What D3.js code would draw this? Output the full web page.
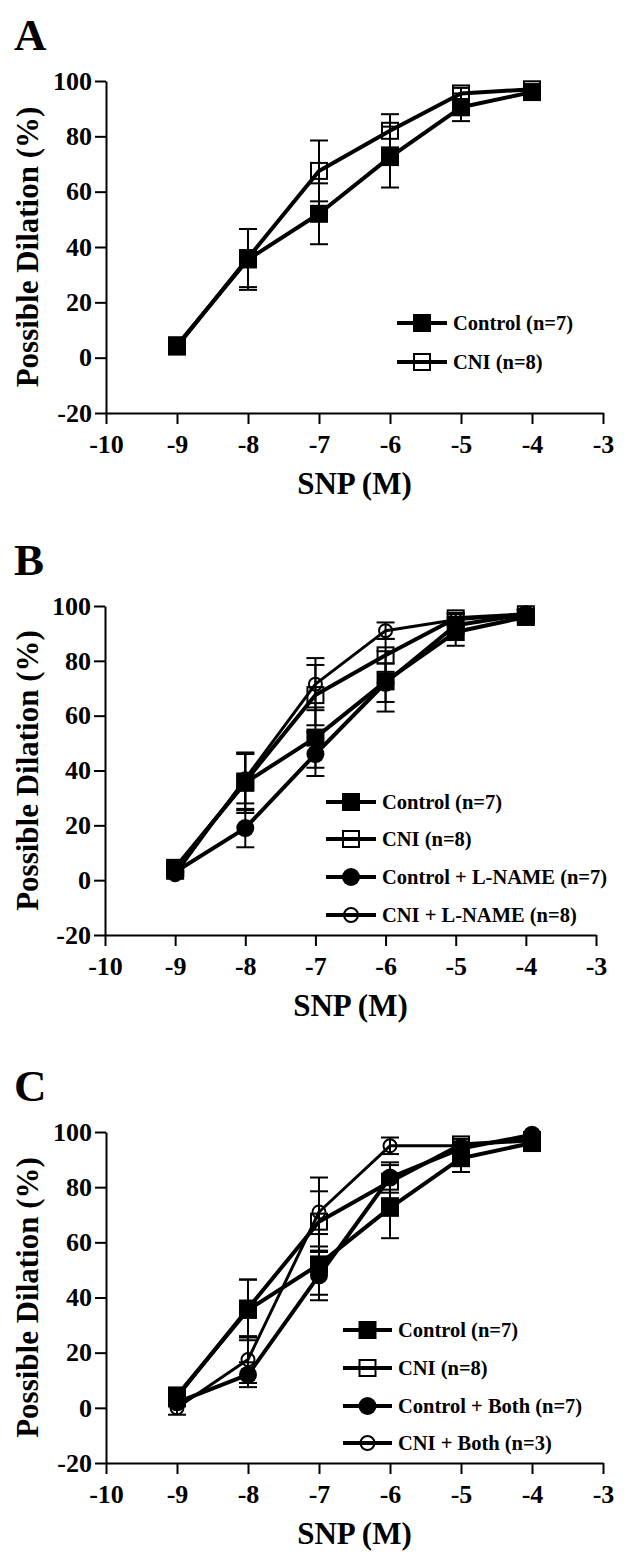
<!DOCTYPE html>
<html>
<head>
<meta charset="utf-8">
<script src="https://cdn.jsdelivr.net/npm/d3@7"></script>
<style>
  html, body { margin: 0; padding: 0; background: #fff; }
  svg { display: block; }
  text { font-family: "Liberation Serif", "Times New Roman", serif; font-weight: bold; fill: #000; }
</style>
</head>
<body>
<svg id="chart" width="628" height="1563"></svg>
<script>
// ---------- data ----------
const doses = [-9, -8, -7, -6, -5, -4];
const xTickValues = [-10, -9, -8, -7, -6, -5, -4, -3];
const yTickValues = [-20, 0, 20, 40, 60, 80, 100];

const controlMean = [4.5, 35.5, 52, 72.5, 90.5, 96];
const controlSem  = [1.5, 11, 11, 11, 5, 1.5];
const cniMean     = [4, 36, 67.5, 82, 95.5, 97];
const cniSem      = [1.5, 10.5, 11, 6, 2, 1.5];

const controlLnameMean = [3, 19, 46, 72, 93, 97];
const controlLnameSem  = [1.5, 7, 8, 7, 3, 1.5];
const cniLnameMean     = [2, 37, 71.5, 91, 95, 97];
const cniLnameSem      = [1.5, 9, 9.5, 3, 2, 1.5];

const controlBothMean = [2, 12, 48, 83.5, 94, 99];
const controlBothSem  = [1.5, 4.5, 9, 5.5, 2.5, 1];
const cniBothMean     = [0, 17.5, 71, 95, 95, 97.5];
const cniBothSem      = [2.5, 8.5, 12.5, 3, 1.5, 1];

const panelLetters = ["A", "B", "C"];
const xAxisTitle = "SNP (M)";
const yAxisTitle = "Possible Dilation (%)";

const seriesA = [
  { name: "Control (n=7)", mean: controlMean, sem: controlSem, marker: "squareFilled" },
  { name: "CNI (n=8)", mean: cniMean, sem: cniSem, marker: "squareOpen" }
];
const seriesB = [
  { name: "Control (n=7)", mean: controlMean, sem: controlSem, marker: "squareFilled" },
  { name: "CNI (n=8)", mean: cniMean, sem: cniSem, marker: "squareOpen" },
  { name: "Control + L-NAME (n=7)", mean: controlLnameMean, sem: controlLnameSem, marker: "circleFilled" },
  { name: "CNI + L-NAME (n=8)", mean: cniLnameMean, sem: cniLnameSem, marker: "circleOpen" }
];
const seriesC = [
  { name: "Control (n=7)", mean: controlMean, sem: controlSem, marker: "squareFilled" },
  { name: "CNI (n=8)", mean: cniMean, sem: cniSem, marker: "squareOpen" },
  { name: "Control + Both (n=7)", mean: controlBothMean, sem: controlBothSem, marker: "circleFilled" },
  { name: "CNI + Both (n=3)", mean: cniBothMean, sem: cniBothSem, marker: "circleOpen" }
];

// ---------- layout ----------
const panels = [
  { letter: panelLetters[0], series: seriesA, x0: 106, x1: 603, yTop: 81, yBot: 413,
    legend: { lx0: 397, lx1: 447, ty: 453, rowY: [323, 362] } },
  { letter: panelLetters[1], series: seriesB, x0: 105, x1: 596, yTop: 606, yBot: 935,
    legend: { lx0: 326, lx1: 376, ty: 382, rowY: [802, 839, 877, 915] } },
  { letter: panelLetters[2], series: seriesC, x0: 106, x1: 603, yTop: 1132, yBot: 1463,
    legend: { lx0: 343, lx1: 392, ty: 398, rowY: [1330, 1368, 1406, 1443] } }
];

const svg = d3.select("#chart");
const fmt = d => String(d);

function drawMarker(g, type, cx, cy, legend) {
  if (type === "squareFilled") {
    g.append("rect").attr("x", cx - 9).attr("y", cy - 9).attr("width", 18).attr("height", 18)
      .attr("fill", "#000");
  } else if (type === "squareOpen") {
    g.append("rect").attr("x", cx - 8).attr("y", cy - 8).attr("width", 16).attr("height", 16)
      .attr("fill", "none").attr("stroke", "#000").attr("stroke-width", 2);
  } else if (type === "circleFilled") {
    g.append("circle").attr("cx", cx).attr("cy", cy).attr("r", 9).attr("fill", "#000");
  } else if (type === "circleOpen") {
    g.append("circle").attr("cx", cx).attr("cy", cy).attr("r", legend ? 7 : 6.5)
      .attr("fill", "none").attr("stroke", "#000").attr("stroke-width", 2);
  }
}

panels.forEach(p => {
  const g = svg.append("g");
  const x = d3.scaleLinear().domain([-10, -3]).range([p.x0, p.x1]);
  const y = d3.scaleLinear().domain([-20, 100]).range([p.yBot, p.yTop]);

  // panel letter
  g.append("text").attr("x", 14).attr("y", p.yTop - 31)
    .style("font-size", "45px").text(p.letter);

  // axes
  const yAxis = g.append("g").attr("transform", `translate(${p.x0},0)`)
    .call(d3.axisLeft(y).tickValues(yTickValues).tickFormat(fmt).tickSize(11).tickSizeOuter(0).tickPadding(3));
  const xAxis = g.append("g").attr("transform", `translate(0,${p.yBot})`)
    .call(d3.axisBottom(x).tickValues(xTickValues).tickFormat(fmt).tickSize(11).tickSizeOuter(0));
  [yAxis, xAxis].forEach(a => {
    a.select(".domain").attr("stroke", "#000").attr("stroke-width", 2);
    a.selectAll(".tick line").attr("stroke", "#000").attr("stroke-width", 2);
    a.selectAll(".tick text").attr("fill", "#000")
      .style("font-family", '"Liberation Serif", "Times New Roman", serif')
      .style("font-weight", "bold").style("font-size", "26px");
  });
  xAxis.selectAll(".tick text").attr("y", 40).attr("dy", 0);

  // axis titles
  g.append("text").attr("x", (p.x0 + p.x1) / 2).attr("y", p.yBot + 81)
    .attr("text-anchor", "middle").style("font-size", "31px").text(xAxisTitle);
  g.append("text").attr("transform", `translate(38,${(p.yTop + p.yBot) / 2}) rotate(-90)`)
    .attr("text-anchor", "middle").style("font-size", "31px").text(yAxisTitle);

  // series
  p.series.forEach(s => {
    const pts = doses.map((d, i) => ({ x: d, m: s.mean[i], e: s.sem[i] }));
    const sg = g.append("g");
    // error bars
    pts.forEach(pt => {
      const cx = x(pt.x);
      sg.append("line").attr("x1", cx).attr("x2", cx)
        .attr("y1", y(pt.m - pt.e)).attr("y2", y(pt.m + pt.e))
        .attr("stroke", "#000").attr("stroke-width", 2);
      [pt.m - pt.e, pt.m + pt.e].forEach(v => {
        sg.append("line").attr("x1", cx - 9).attr("x2", cx + 9)
          .attr("y1", y(v)).attr("y2", y(v))
          .attr("stroke", "#000").attr("stroke-width", 2);
      });
    });
    // connecting line
    const lw = s.marker === "circleOpen" ? 3 : 4;
    sg.append("path").datum(pts)
      .attr("d", d3.line().x(d => x(d.x)).y(d => y(d.m)))
      .attr("fill", "none").attr("stroke", "#000").attr("stroke-width", lw)
      .attr("stroke-linejoin", "round");
    // markers
    pts.forEach(pt => drawMarker(sg, s.marker, x(pt.x), y(pt.m), false));
  });

  // legend
  const L = p.legend;
  p.series.forEach((s, i) => {
    const ry = L.rowY[i];
    const lg = g.append("g");
    lg.append("line").attr("x1", L.lx0).attr("x2", L.lx1).attr("y1", ry).attr("y2", ry)
      .attr("stroke", "#000").attr("stroke-width", 4);
    drawMarker(lg, s.marker, (L.lx0 + L.lx1) / 2, ry, true);
    lg.append("text").attr("x", L.ty).attr("y", ry).attr("dy", "0.35em")
      .style("font-size", "20.5px").text(s.name);
  });
});
</script>
</body>
</html>
